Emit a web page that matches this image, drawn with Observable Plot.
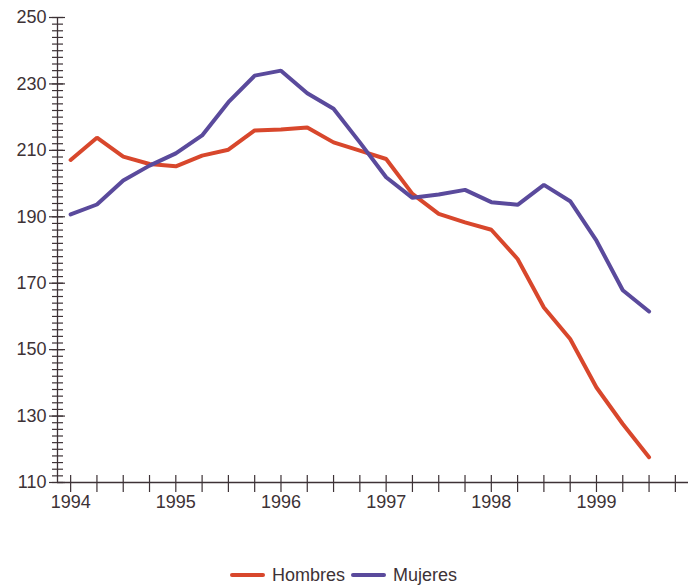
<!DOCTYPE html>
<html>
<head>
<meta charset="utf-8">
<script src="https://cdn.jsdelivr.net/npm/d3@7"></script>
<script src="https://cdn.jsdelivr.net/npm/@observablehq/plot@0.6"></script>
<style>
  body { margin: 0; background: #fff; font-family: "Liberation Sans", Arial, sans-serif; }
  #chart svg { display: block; }
  #legend { display: flex; justify-content: center; align-items: center; margin-top: 43px; margin-left: -13px;
            font-size: 18px; color: #3d3236; height: 24px; }
  .item { display: flex; align-items: center; margin: 0 3px; }
  .sw { width: 35px; height: 4px; margin-right: 7px; border-radius: 2px; }
</style>
</head>
<body>
<div id="chart"></div>
<div id="legend"></div>
<script>
const quarters = [1994, 1994.25, 1994.5, 1994.75, 1995, 1995.25, 1995.5, 1995.75,
                  1996, 1996.25, 1996.5, 1996.75, 1997, 1997.25, 1997.5, 1997.75,
                  1998, 1998.25, 1998.5, 1998.75, 1999, 1999.25, 1999.5];
const hombres = [207.1, 213.8, 208.1, 205.9, 205.2, 208.4, 210.2, 216.0,
                 216.3, 216.9, 212.4, 209.9, 207.4, 196.9, 190.9, 188.3,
                 186.1, 177.3, 162.7, 153.2, 138.6, 127.6, 117.6];
const mujeres = [190.7, 193.7, 200.9, 205.4, 209.1, 214.5, 224.5, 232.5,
                 234.0, 227.2, 222.5, 212.4, 201.9, 195.7, 196.7, 198.1,
                 194.4, 193.6, 199.6, 194.7, 182.8, 167.9, 161.5];
const seriesNames = ["Hombres", "Mujeres"];
const seriesColors = ["#d8472c", "#5a4a9c"];
const yMajorTicks = [110, 130, 150, 170, 190, 210, 230, 250];
const yMinorTicks = d3.range(110, 251, 2);
const xQuarterTicks = d3.range(1994, 1999.76, 0.25);
const xYearLabels = [1994, 1995, 1996, 1997, 1998, 1999];
const xDomain = [1993.875, 1999.875];
const yDomain = [110, 250];

const axisColor = "#3d3236";
const data = quarters.flatMap((q, i) => [
  {q, v: hombres[i], s: seriesNames[0]},
  {q, v: mujeres[i], s: seriesNames[1]}
]);

const chart = Plot.plot({
  width: 700, height: 520,
  marginTop: 17, marginBottom: 38, marginLeft: 57, marginRight: 12,
  x: {domain: xDomain},
  y: {domain: yDomain},
  color: {domain: seriesNames, range: seriesColors},
  style: {fontFamily: "'Liberation Sans', Arial, sans-serif", fontSize: "18px", color: axisColor, background: "white"},
  marks: [
    Plot.ruleY([yDomain[0]], {stroke: axisColor, strokeWidth: 1.3}),
    Plot.ruleX([xDomain[0]], {stroke: axisColor, strokeWidth: 1.3}),
    Plot.axisY({ticks: yMinorTicks, tickSize: 11, dx: 6, tickFormat: () => "", label: null, strokeWidth: 1.2}),
    Plot.axisY({ticks: yMajorTicks, tickSize: 16, dx: 8, tickFormat: () => "", label: null, strokeWidth: 1.2}),
    Plot.axisY({ticks: yMajorTicks, tickSize: 0, tickPadding: 11, label: null, fontSize: 18}),
    Plot.axisX({ticks: xQuarterTicks, tickSize: 17, dy: -7, tickFormat: () => "", label: null, strokeWidth: 1.2}),
    Plot.axisX({ticks: xYearLabels, tickSize: 0, tickPadding: 13, tickFormat: d => String(d), label: null, fontSize: 18}),
    Plot.line(data, {x: "q", y: "v", stroke: "s", z: "s", strokeWidth: 4, strokeLinejoin: "miter"})
  ]
});
document.getElementById("chart").appendChild(chart);

const legend = document.getElementById("legend");
seriesNames.forEach((name, i) => {
  const item = document.createElement("div");
  item.className = "item";
  const sw = document.createElement("div");
  sw.className = "sw";
  sw.style.background = seriesColors[i];
  const label = document.createElement("span");
  label.textContent = name;
  item.appendChild(sw);
  item.appendChild(label);
  legend.appendChild(item);
});
</script>
</body>
</html>
